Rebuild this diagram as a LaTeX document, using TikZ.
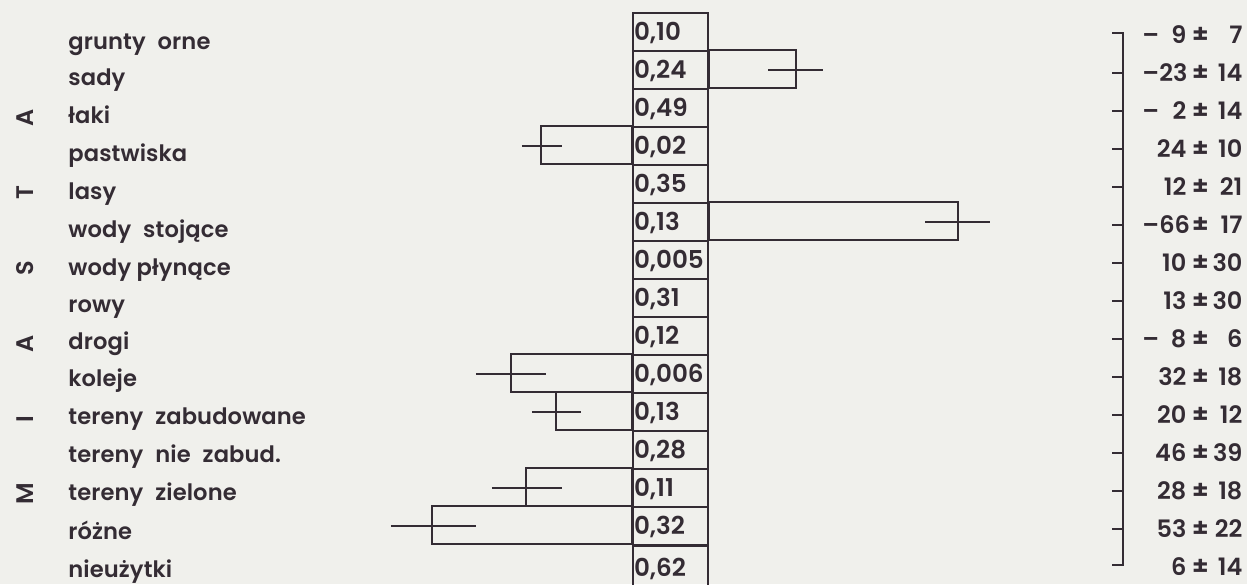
\documentclass[tikz,border=0pt]{standalone}
\usepackage{fontspec}
\setmainfont{Poppins}[BoldFont={Poppins SemiBold}]
\newfontfamily\plotfont{Poppins}[BoldFont={Poppins SemiBold},LetterSpace=0.5]
\definecolor{ink}{RGB}{52,44,52}
\definecolor{paper}{RGB}{240,240,236}
\newcommand{\wert}[3]{\makebox[22pt][l]{#1\hfill#2}\makebox[14pt][c]{\fontsize{13}{14}\selectfont±}\makebox[14pt][r]{#3}}
\begin{document}
\begin{tikzpicture}[x=0.5pt,y=-0.5pt]
        \tikzstyle{cell}=[draw=ink,line width=1.2pt,minimum width=37.5pt,minimum height=19pt,text width=36.5pt,inner xsep=0.5pt,inner ysep=0pt,align=left,text height=8.6pt,text depth=0pt,font=\fontsize{12.3}{14}\selectfont\bfseries,text=ink]
        \tikzstyle{landuse}=[anchor=west,inner sep=0pt,text height=6.3pt,text depth=0pt,font=\plotfont\fontsize{11.3}{14}\selectfont\bfseries,text=ink]
        \tikzstyle{value}=[anchor=west,inner sep=0pt,text height=8.4pt,text depth=0pt,font=\fontsize{12}{14}\selectfont\bfseries,text=ink]
        \tikzstyle{letter}=[rotate=90,inner sep=0pt,text height=8.4pt,text depth=0pt,font=\fontsize{12}{14}\selectfont\bfseries,text=ink]
        \tikzstyle{bar}=[draw=ink,line width=1.2pt]
        \tikzstyle{err}=[draw=ink,line width=1.4pt]
        \fill[paper] (0,0) rectangle (1247,584);
        \useasboundingbox (0,0) rectangle (1247,584);
       \begin{scope}
         \node [letter] (m1) at (25,494) {M};
         \node [letter] (m2) at (25,419) {I};
         \node [letter] (m3) at (25,344) {A};
         \node [letter] (m4) at (25,268) {S};
         \node [letter] (m5) at (25,193) {T};
         \node [letter] (m6) at (25,118) {A};

         \node [landuse] (l0) at (68,43) {grunty\hspace{6pt}orne};
         \node [landuse] (l1) at (68,79) {sady};
         \node [landuse] (l2) at (68,117) {łaki};
         \node [landuse] (l3) at (68,155) {pastwiska};
         \node [landuse] (l4) at (68,193) {lasy};
         \node [landuse] (l5) at (68,231) {wody\hspace{6pt}stojące};
         \node [landuse] (l6) at (68,269) {wody płynące};
         \node [landuse] (l7) at (68,306) {rowy};
         \node [landuse] (l8) at (68,343) {drogi};
         \node [landuse] (l9) at (68,380) {koleje};
         \node [landuse] (l10) at (68,418) {tereny\hspace{6pt}zabudowane};
         \node [landuse] (l11) at (68,456) {tereny\hspace{6pt}nie\hspace{6pt}zabud.};
         \node [landuse] (l12) at (68,494) {tereny\hspace{6pt}zielone};
         \node [landuse] (l13) at (68,533) {różne};
         \node [landuse] (l14) at (68,571) {nieużytki};

         \node [cell] (c0) at (670.5,32) {0,10};
         \node [cell] (c1) at (670.5,70) {0,24};
         \node [cell] (c2) at (670.5,108) {0,49};
         \node [cell] (c3) at (670.5,146) {0,02};
         \node [cell] (c4) at (670.5,184) {0,35};
         \node [cell] (c5) at (670.5,222) {0,13};
         \node [cell] (c6) at (670.5,260) {0,005};
         \node [cell] (c7) at (670.5,298) {0,31};
         \node [cell] (c8) at (670.5,336) {0,12};
         \node [cell] (c9) at (670.5,374) {0,006};
         \node [cell] (c10) at (670.5,412) {0,13};
         \node [cell] (c11) at (670.5,450) {0,28};
         \node [cell] (c12) at (670.5,488) {0,11};
         \node [cell] (c13) at (670.5,526) {0,32};
         \node [cell,anchor=north,minimum height=22pt] (c14) at (670.5,545) {0,62};

         \draw[bar] (c1.north east) rectangle ++(87,38);
         \draw[bar] (c3.north west) rectangle ++(-91,38);
         \draw[bar] (c5.north east) rectangle ++(249,38);
         \draw[bar] (c9.north west) rectangle ++(-121,38);
         \draw[bar] (c10.north west) rectangle ++(-76,38);
         \draw[bar] (c12.north west) rectangle ++(-106,38);
         \draw[bar] (c13.north west) rectangle ++(-200,38);

         \draw[err] (c1.east) ++(59,0) -- ++(55,0);
         \draw[err] (c3.west) ++(-110,0) -- ++(40,0);
         \draw[err] (c5.east) ++(216,0) -- ++(65,0);
         \draw[err] (c9.west) ++(-156,0) -- ++(70,0);
         \draw[err] (c10.west) ++(-100,0) -- ++(49,0);
         \draw[err] (c12.west) ++(-140,0) -- ++(70,0);
         \draw[err] (c13.west) ++(-241,0) -- ++(85,0);

         \node [value] (v0) at (1142,35) {\wert{–}{9}{7}};
         \node [value] (v1) at (1142,73) {\wert{–}{23}{14}};
         \node [value] (v2) at (1142,111) {\wert{–}{2}{14}};
         \node [value] (v3) at (1142,149) {\wert{}{24}{10}};
         \node [value] (v4) at (1142,187) {\wert{}{12}{21}};
         \node [value] (v5) at (1142,225) {\wert{–}{66}{17}};
         \node [value] (v6) at (1142,263) {\wert{}{10}{30}};
         \node [value] (v7) at (1142,301) {\wert{}{13}{30}};
         \node [value] (v8) at (1142,339) {\wert{–}{8}{6}};
         \node [value] (v9) at (1142,377) {\wert{}{32}{18}};
         \node [value] (v10) at (1142,415) {\wert{}{20}{12}};
         \node [value] (v11) at (1142,453) {\wert{}{46}{39}};
         \node [value] (v12) at (1142,491) {\wert{}{28}{18}};
         \node [value] (v13) at (1142,529) {\wert{}{53}{22}};
         \node [value] (v14) at (1142,567) {\wert{}{6}{14}};

         \coordinate (btop) at (1123,33);
         \coordinate (bbot) at (1123,565);
         \draw[bar] (btop) ++(-11,0) -- (btop) -- (bbot) -- ++(-11,0);
         \draw[bar] (v1.west -| btop) -- ++(-11,0);
         \draw[bar] (v2.west -| btop) -- ++(-11,0);
         \draw[bar] (v3.west -| btop) -- ++(-11,0);
         \draw[bar] (v4.west -| btop) -- ++(-11,0);
         \draw[bar] (v5.west -| btop) -- ++(-11,0);
         \draw[bar] (v6.west -| btop) -- ++(-11,0);
         \draw[bar] (v7.west -| btop) -- ++(-11,0);
         \draw[bar] (v8.west -| btop) -- ++(-11,0);
         \draw[bar] (v9.west -| btop) -- ++(-11,0);
         \draw[bar] (v10.west -| btop) -- ++(-11,0);
         \draw[bar] (v11.west -| btop) -- ++(-11,0);
         \draw[bar] (v12.west -| btop) -- ++(-11,0);
         \draw[bar] (v13.west -| btop) -- ++(-11,0);
        \end{scope}
      \end{tikzpicture}
\end{document}
